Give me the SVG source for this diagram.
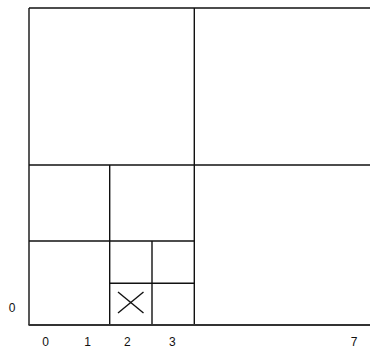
<svg xmlns="http://www.w3.org/2000/svg" width="370" height="347" viewBox="0 0 370 347">
<style>
.ln{stroke:#111;stroke-width:1.4;fill:none}
.bd{stroke:#333;stroke-width:2;fill:none}
.t{font-family:"Liberation Sans",Arial,sans-serif;font-size:12px;fill:#111}
</style>
<rect width="370" height="347" fill="#fff"/>
<g id="grid">
<line class="ln" x1="29" y1="8" x2="370" y2="8"/>
<line class="ln" x1="29" y1="8" x2="29" y2="325"/>
<line class="ln" x1="194.3" y1="8" x2="194.3" y2="325"/>
<line class="ln" x1="29" y1="165" x2="370" y2="165"/>
<line class="ln" x1="109.7" y1="165" x2="109.7" y2="325"/>
<line class="ln" x1="29" y1="241" x2="194.3" y2="241"/>
<line class="ln" x1="152" y1="241" x2="152" y2="325"/>
<line class="ln" x1="109.7" y1="283.3" x2="194.3" y2="283.3"/>
<line class="bd" x1="28.5" y1="325" x2="370" y2="325"/>
</g>
<g id="mark">
<line class="ln" x1="118" y1="292" x2="143.5" y2="313"/>
<line class="ln" x1="143.5" y1="292" x2="118" y2="313"/>
</g>
<g id="labels">
<text class="t" x="12" y="312" text-anchor="middle">0</text>
<text class="t" x="45.7" y="345.5" text-anchor="middle">0</text>
<text class="t" x="87.5" y="345.5" text-anchor="middle">1</text>
<text class="t" x="127.3" y="345.5" text-anchor="middle">2</text>
<text class="t" x="172.3" y="345.5" text-anchor="middle">3</text>
<text class="t" x="354" y="345.5" text-anchor="middle">7</text>
</g>
</svg>
